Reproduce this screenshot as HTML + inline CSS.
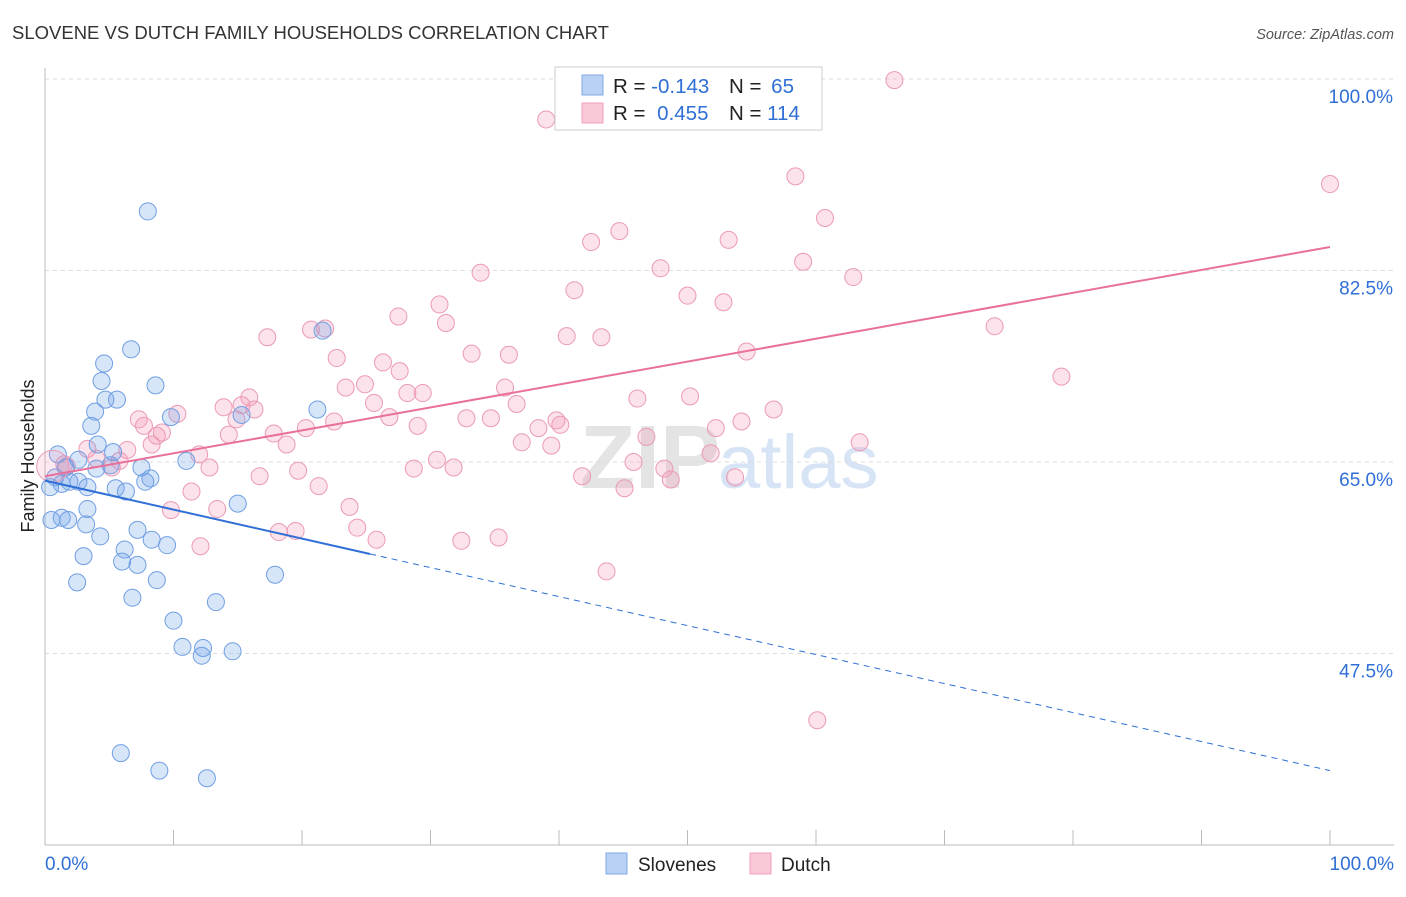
<!DOCTYPE html>
<html><head><meta charset="utf-8"><style>
body{margin:0;background:#fff;font-family:"Liberation Sans",sans-serif;}
svg text{font-family:"Liberation Sans",sans-serif;}
</style></head><body>
<svg id="chart" width="1406" height="892" viewBox="0 0 1406 892">
<text x="12" y="39" font-size="18.5" fill="#333">SLOVENE VS DUTCH FAMILY HOUSEHOLDS CORRELATION CHART</text>
<text x="1394" y="39" font-size="14.5" fill="#555" font-style="italic" text-anchor="end">Source: ZipAtlas.com</text>
<text x="720" y="488" font-size="90" fill="#e4e4e4" text-anchor="end" font-family="Liberation Serif" font-weight="bold">ZIP</text>
<text x="718" y="488" font-size="76" fill="#d6e4f5">atlas</text>
<g id="grid"></g>
<g id="axes"></g>
<g id="marks"></g>
<text transform="translate(34,456) rotate(-90)" font-size="18" fill="#222" text-anchor="middle">Family Households</text>
<g>
<rect x="555" y="67" width="267" height="63" fill="#fff" stroke="#ccc"/>
<rect x="582" y="75" width="21" height="20" fill="#b8d1f5" stroke="#80a9e6"/>
<rect x="582" y="103" width="21" height="20" fill="#fbc8d8" stroke="#f0a0bb"/>
<text x="613" y="93" font-size="20.5" fill="#222">R = <tspan fill="#2f6fd6">-0.143</tspan></text>
<text x="729" y="93" font-size="20.5" fill="#222">N = <tspan fill="#2f6fd6" dx="4">65</tspan></text>
<text x="613" y="120" font-size="20.5" fill="#222">R = <tspan fill="#2f6fd6" dx="6">0.455</tspan></text>
<text x="729" y="120" font-size="20.5" fill="#222">N = <tspan fill="#2f6fd6">114</tspan></text>
</g>
<g>
<rect x="606" y="853" width="21" height="21" fill="#b8d1f5" stroke="#80a9e6"/>
<text x="638" y="871" font-size="19" fill="#222">Slovenes</text>
<rect x="750" y="853" width="21" height="21" fill="#fbc8d8" stroke="#f0a0bb"/>
<text x="781" y="871" font-size="19" fill="#222">Dutch</text>
</g>
</svg>
<script>
const yTicks=[100,82.5,65,47.5];
const yTickLabels=["100.0%","82.5%","65.0%","47.5%"];
const xEdgeLabels=["0.0%","100.0%"];
const sloveneX=[8.0,6.7,4.6,4.4,8.6,4.7,5.6,3.9,9.8,21.2,21.6,15.3,3.6,4.1,1.0,2.6,5.3,5.1,7.5,11.0,4.0,1.6,0.8,1.9,2.6,3.3,5.5,6.3,8.2,7.8,0.4,1.3,15.0,3.3,1.3,0.5,1.8,3.2,7.2,4.3,8.3,9.5,6.2,3.0,6.0,7.2,17.9,2.5,8.7,6.8,13.3,10.0,10.7,12.3,12.2,14.6,5.9,8.9,12.6];
const sloveneY=[87.9,75.3,74.0,72.4,72.0,70.7,70.7,69.6,69.1,69.8,77.0,69.3,68.3,66.6,65.7,65.2,65.9,64.7,64.5,65.1,64.4,64.5,63.6,63.2,63.2,62.7,62.6,62.3,63.5,63.2,62.7,63.0,61.2,60.7,59.9,59.7,59.7,59.3,58.8,58.2,57.9,57.4,57.0,56.4,55.9,55.6,54.7,54.0,54.2,52.6,52.2,50.5,48.1,48.0,47.3,47.7,38.4,36.8,36.1];
const dutchX=[66.1,39.0,100,58.4,60.7,44.7,42.5,53.2,59.0,47.9,33.9,62.9,41.2,50.0,52.8,30.7,27.5,31.2,20.7,21.8,73.9,17.3,40.6,43.3,54.6,33.2,36.1,22.7,26.3,27.6,79.1,24.9,23.4,35.8,28.2,29.4,15.9,50.2,46.1,25.6,36.7,15.3,13.9,16.3,56.7,10.3,7.3,14.9,26.8,32.8,34.7,39.8,54.2,22.5,7.7,29.0,40.1,38.4,20.3,52.2,17.8,9.1,14.3,8.7,46.8,18.8,37.1,39.4,63.4,8.3,6.4,3.3,12.0,51.8,30.5,4.0,5.8,45.8,5.2,12.8,19.7,31.8,28.7,48.2,16.7,41.8,48.7,53.7,21.3,45.1,11.4,23.7,9.8,13.4,24.3,18.2,19.5,25.8,32.4,35.3,12.1,43.7,60.1,1.7,1.5];
const dutchY=[99.9,96.3,90.4,91.1,87.3,86.1,85.1,85.3,83.3,82.7,82.3,81.9,80.7,80.2,79.6,79.4,78.3,77.7,77.1,77.2,77.4,76.4,76.5,76.4,75.1,74.9,74.8,74.5,74.1,73.3,72.8,72.1,71.8,71.8,71.3,71.3,70.9,71.0,70.8,70.4,70.3,70.2,70.0,69.8,69.8,69.4,68.9,68.9,69.1,69.0,69.0,68.8,68.7,68.7,68.3,68.3,68.4,68.1,68.1,68.1,67.6,67.7,67.5,67.4,67.3,66.6,66.8,66.5,66.8,66.6,66.1,66.2,65.7,65.8,65.2,65.3,65.1,65.0,64.5,64.5,64.2,64.5,64.4,64.4,63.7,63.7,63.4,63.6,62.8,62.6,62.3,60.9,60.6,60.7,59.0,58.6,58.7,57.9,57.8,58.1,57.3,55.0,41.4,64.6,64.8];
const dutchTrend=[63.7,84.65];
const sloveneTrend=[63.3,36.8];
const sloveneSolidEnd=25.3;

const NS="http://www.w3.org/2000/svg";
const X0=45,X1=1330;
const sx=v=>X0+(X1-X0)*v/100;
const sy=v=>462-(v-65)*191.5/17.5;
function mk(tag,attrs,parent){const e=document.createElementNS(NS,tag);for(const k in attrs)e.setAttribute(k,attrs[k]);parent.appendChild(e);return e;}
const grid=document.getElementById('grid'),axes=document.getElementById('axes'),marks=document.getElementById('marks');
yTicks.forEach((t,i)=>{
  const l=mk('line',{x1:X0,x2:1394,y1:sy(t),y2:sy(t),stroke:'#ddd','stroke-dasharray':'4,4'},grid);
  
  
  const tx=mk('text',{x:1393,y:sy(t)+24,'font-size':19,fill:'#2f6fd6','text-anchor':'end'},axes);
  tx.textContent=yTickLabels[i];
  
  
});
const xa=mk('line',{x1:X0,x2:1394,y1:845,y2:845,stroke:'#bbb'},axes);


const ya=mk('line',{x1:X0,x2:X0,y1:68,y2:845,stroke:'#bbb'},axes);


for(let i=0;i<=10;i++){
  const t=mk('line',{x1:sx(i*10),x2:sx(i*10),y1:830,y2:845,stroke:'#bbb'},axes);
  
  
}
const xl0=mk('text',{x:45,y:870,'font-size':19,fill:'#2f6fd6'},axes);xl0.textContent=xEdgeLabels[0];


const xl1=mk('text',{x:1394,y:870,'font-size':19,fill:'#2f6fd6','text-anchor':'end'},axes);xl1.textContent=xEdgeLabels[1];



dutchX.forEach((x,i)=>{
  const c=mk('circle',{cx:sx(x),cy:sy(dutchY[i]),r:8.5,fill:'rgba(244,150,180,0.28)',stroke:'#eb9ab5','stroke-width':1},marks);
  
  
});
sloveneX.forEach((x,i)=>{
  const c=mk('circle',{cx:sx(x),cy:sy(sloveneY[i]),r:8.5,fill:'rgba(110,160,235,0.28)',stroke:'#6f9fe3','stroke-width':1},marks);
  
  
});
const big=mk('circle',{cx:sx(0.6),cy:sy(64.6),r:16,fill:'rgba(244,150,180,0.2)',stroke:'#eb9ab5'},marks);


const pl=mk('line',{x1:sx(0),y1:sy(dutchTrend[0]),x2:sx(100),y2:sy(dutchTrend[1]),stroke:'#e8709a','stroke-width':2},marks);


const bAt=x=>sloveneTrend[0]+(sloveneTrend[1]-sloveneTrend[0])*x/100;
const bl=mk('line',{x1:sx(0),y1:sy(bAt(0)),x2:sx(sloveneSolidEnd),y2:sy(bAt(sloveneSolidEnd)),stroke:'#2f6fd6','stroke-width':2},marks);


const bd=mk('line',{x1:sx(sloveneSolidEnd),y1:sy(bAt(sloveneSolidEnd)),x2:sx(100),y2:sy(bAt(100)),stroke:'#2f6fd6','stroke-width':1,'stroke-dasharray':'6,5'},marks);


</script>
</body></html>
